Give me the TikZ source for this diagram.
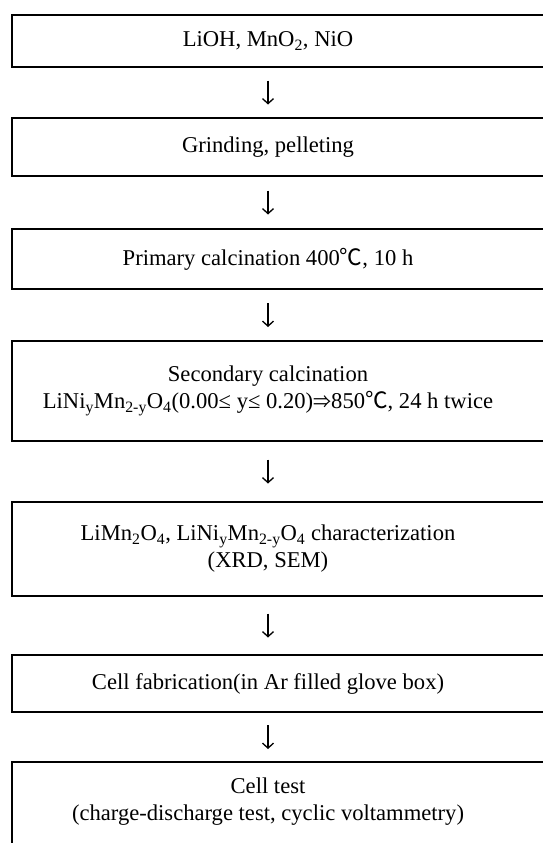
\documentclass[tikz,border=0pt]{standalone}
\usepackage{fontspec}
\setmainfont{Liberation Serif}
\newfontfamily\cjk{Noto Sans CJK SC}
\usetikzlibrary{arrows.meta,calc}
\tikzset{
  stepbox/.style={minimum width=512pt, align=center, inner sep=0pt,
    font=\fontsize{22.6pt}{27pt}\selectfont},
  boxline/.style={draw=black, line width=1.9pt},
  flowarrow/.style={line width=1.3pt, -{Straight Barb[length=5pt,width=11pt,line width=1.3pt]}}
}
\begin{document}
\begin{tikzpicture}[x=1pt,y=-1pt]
\useasboundingbox (0,0) rectangle (543,843);
\clip (0,0) rectangle (543,843);
\fill[white] (0,0) rectangle (543,843);
\node[stepbox, minimum height=52pt] (b1) at (268,41) {LiOH, MnO\textsubscript{2}, NiO};
\node[stepbox, minimum height=58pt] (b2) at (268,147) {Grinding, pelleting};
\node[stepbox, minimum height=60pt] (b3) at (268,259) {Primary calcination 400{\cjk ℃}, 10 h};
\node[stepbox, minimum height=100pt] (b4) at (268,391) {Secondary calcination\\LiNi\textsubscript{y}Mn\textsubscript{2-y}O\textsubscript{4}(0.00≤ y≤ 0.20){\cjk\fontsize{18pt}{20pt}\selectfont ⇒}850{\cjk ℃}, 24 h twice};
\node[stepbox, minimum height=94pt] (b5) at (268,549) {LiMn\textsubscript{2}O\textsubscript{4}, LiNi\textsubscript{y}Mn\textsubscript{2-y}O\textsubscript{4} characterization\\(XRD, SEM)};
\node[stepbox, minimum height=57pt] (b6) at (268,683.5) {Cell fabrication(in Ar filled glove box)};
\node[stepbox, minimum height=80pt] (b7) at (268,802) {Cell test\\(charge-discharge test, cyclic voltammetry)};
\foreach \n in {b1,b2,b3,b4,b5,b6}
  \draw[boxline] (\n.north west) rectangle ([xshift=40pt]\n.south east);
\draw[boxline] (b7.north west) rectangle ([xshift=40pt,yshift=-30pt]b7.south east);
\foreach \a/\b in {b1/b2,b2/b3,b3/b4,b4/b5,b5/b6,b6/b7}
  \draw[flowarrow] ($($(\a.south)!0.5!(\b.north)$)+(0,-12)$) -- ($($(\a.south)!0.5!(\b.north)$)+(0,12)$);
\end{tikzpicture}
\end{document}
